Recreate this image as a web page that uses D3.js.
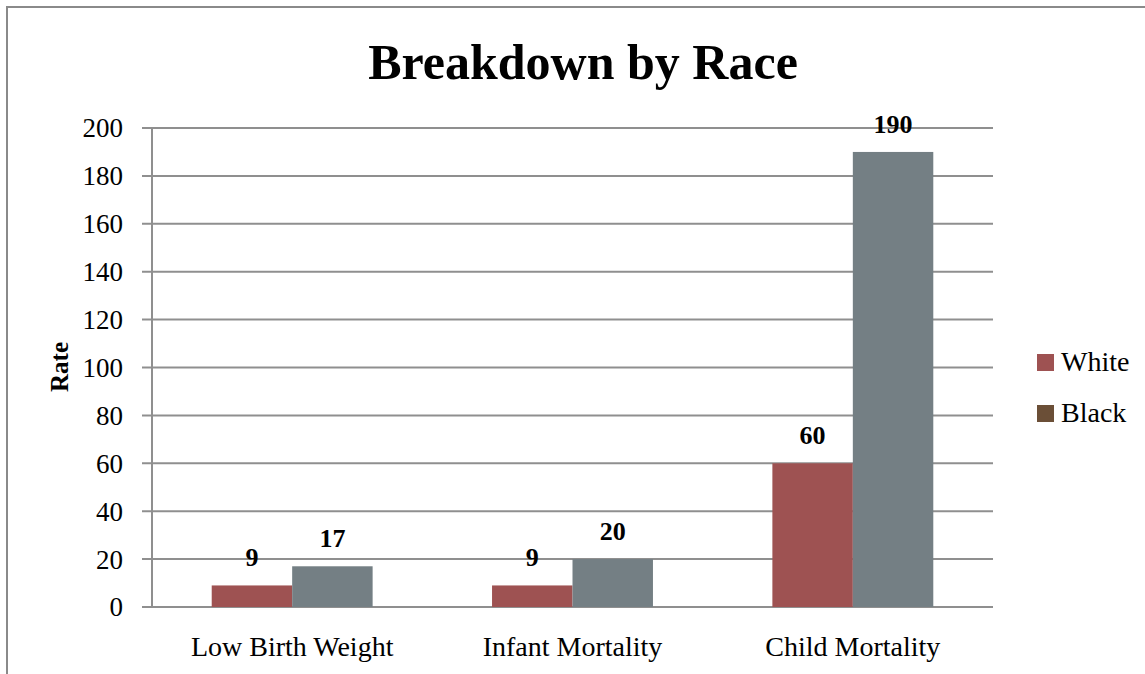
<!DOCTYPE html>
<html>
<head>
<meta charset="utf-8">
<script src="https://cdn.jsdelivr.net/npm/d3@7"></script>
<style>
  html, body { margin: 0; padding: 0; background: #fff; }
  svg { display: block; }
  text { font-family: "Liberation Serif", "Times New Roman", serif; fill: #000; }
</style>
</head>
<body>
<script>
const categories = ["Low Birth Weight", "Infant Mortality", "Child Mortality"];
const seriesNames = ["White", "Black"];
const whiteValues = [9, 9, 60];
const blackValues = [17, 20, 190];
const yTicks = [0, 20, 40, 60, 80, 100, 120, 140, 160, 180, 200];

const barColors = { White: "#9E5252", Black: "#747F84" };
const legendColors = { White: "#9E5252", Black: "#6B4F37" };

const W = 1145, H = 674;
const svg = d3.select("body").append("svg").attr("width", W).attr("height", H);

// outer border
svg.append("path")
  .attr("d", `M7,${H} L7,7 L${W},7`)
  .attr("fill", "none").attr("stroke", "#8a8a8a").attr("stroke-width", 2);

const plotL = 152, plotR = 993, plotT = 128, plotB = 607;

const x0 = d3.scaleBand().domain(categories).range([plotL, plotR])
  .paddingInner(0.426).paddingOuter(0.213);
const x1 = d3.scaleBand().domain(seriesNames).range([0, x0.bandwidth()]);
const y = d3.scaleLinear().domain([0, 200]).range([plotB, plotT]);

// gridlines
svg.append("g").selectAll("line").data(yTicks).join("line")
  .attr("x1", plotL - 10).attr("x2", plotR)
  .attr("y1", d => y(d)).attr("y2", d => y(d))
  .attr("stroke", "#8f8f8f").attr("stroke-width", 2);

// y axis line
svg.append("line").attr("x1", plotL).attr("x2", plotL)
  .attr("y1", plotT).attr("y2", plotB)
  .attr("stroke", "#8f8f8f").attr("stroke-width", 2);

// y tick labels
svg.append("g").selectAll("text").data(yTicks).join("text")
  .attr("x", 123).attr("y", d => y(d)).attr("dy", "0.35em")
  .attr("text-anchor", "end").style("font-size", "27px")
  .text(d => d);

const data = categories.map((c, i) => ({
  cat: c,
  vals: [{ s: "White", v: whiteValues[i] }, { s: "Black", v: blackValues[i] }]
}));

const groups = svg.append("g").selectAll("g").data(data).join("g")
  .attr("transform", d => `translate(${x0(d.cat)},0)`);

groups.selectAll("rect").data(d => d.vals).join("rect")
  .attr("x", d => x1(d.s)).attr("width", x1.bandwidth())
  .attr("y", d => y(d.v)).attr("height", d => y(0) - y(d.v))
  .attr("fill", d => barColors[d.s]);

groups.selectAll("text.val").data(d => d.vals).join("text")
  .attr("class", "val")
  .attr("x", d => x1(d.s) + x1.bandwidth() / 2)
  .attr("y", d => y(d.v) - 19)
  .attr("text-anchor", "middle")
  .style("font-size", "26px").style("font-weight", "bold")
  .text(d => d.v);

// category labels
svg.append("g").selectAll("text").data(categories).join("text")
  .attr("x", d => x0(d) + x0.bandwidth() / 2).attr("y", 656)
  .attr("text-anchor", "middle").style("font-size", "28px")
  .text(d => d);

// title
svg.append("text").attr("x", 583).attr("y", 79)
  .attr("text-anchor", "middle").style("font-size", "50px").style("font-weight", "bold")
  .text("Breakdown by Race");

// y axis title
svg.append("text")
  .attr("transform", "translate(68,367) rotate(-90)")
  .attr("text-anchor", "middle").style("font-size", "25px").style("font-weight", "bold")
  .text("Rate");

// legend
const legend = svg.append("g").selectAll("g").data(seriesNames).join("g")
  .attr("transform", (d, i) => `translate(1037,${354 + i * 51})`);
legend.append("rect").attr("width", 17).attr("height", 17)
  .attr("fill", d => legendColors[d]);
legend.append("text").attr("x", 24).attr("y", 17)
  .style("font-size", "28px").text(d => d);
</script>
</body>
</html>
